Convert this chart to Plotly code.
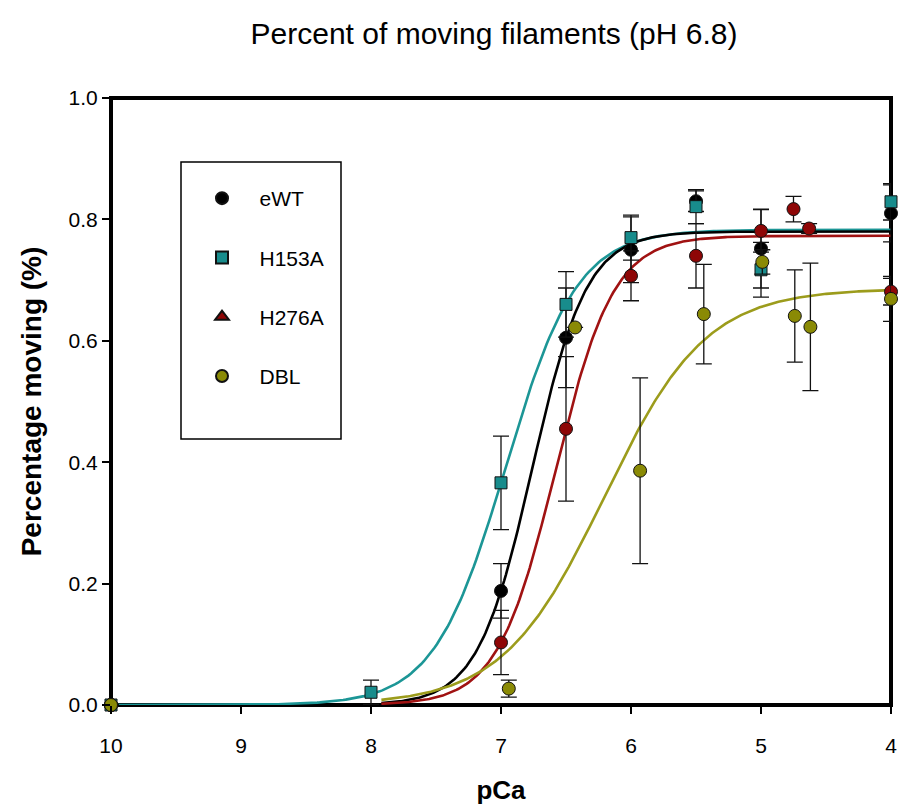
import numpy as np
import plotly.graph_objects as go

# ---------------- data ----------------
ewt_pca = [10, 7, 6.5, 6, 5.5, 5, 4]
ewt_val = [0, 0.188, 0.605, 0.750, 0.830, 0.752, 0.810]
ewt_err = [None, 0.045, 0.082, 0.054, 0.017, 0.065, 0.047]

h153_pca = [10, 8, 7, 6.5, 6, 5.5, 5, 4]
h153_val = [0, 0.021, 0.366, 0.660, 0.770, 0.821, 0.717, 0.829]
h153_err = [None, 0.020, 0.077, 0.054, 0.037, 0.028, 0.045, 0.030]

h276_pca = [10, 7, 6.5, 6, 5.5, 5, 4.75, 4.63, 4]
h276_val = [0, 0.103, 0.455, 0.707, 0.740, 0.781, 0.817, 0.785, 0.681]
h276_err = [None, 0.053, 0.119, 0.041, 0.053, 0.035, 0.021, 0.008, 0.022]

dbl_pca = [10, 6.94, 6.43, 5.93, 5.44, 4.99, 4.74, 4.62, 4]
dbl_val = [0, 0.027, 0.622, 0.386, 0.644, 0.730, 0.641, 0.623, 0.669]
dbl_err = [None, 0.014, None, 0.153, 0.082, 0.020, 0.076, 0.105, 0.037]

# Hill-fit parameters: (ymax, nH, pCa50, start pCa)
fit_ewt = (0.780, 2.07, 6.759, 7.92)
fit_h153 = (0.783, 1.58, 6.965, 10.0)
fit_h276 = (0.773, 1.94, 6.581, 7.92)
fit_dbl = (0.686, 1.11, 6.205, 7.92)

x_ticks = [10, 9, 8, 7, 6, 5, 4]
y_ticks = [0.0, 0.2, 0.4, 0.6, 0.8, 1.0]

names = ["eWT", "H153A", "H276A", "DBL"]

C_BLACK = "#000000"
C_TEAL_M = "#188c8c"
C_TEAL_L = "#1c9696"
C_RED_M = "#8e0606"
C_RED_L = "#a01212"
C_OLV_M = "#8a8a05"
C_OLV_L = "#9c9c1c"

FONT = "Arial, Liberation Sans, sans-serif"


def hill(params):
    ymax, n, p50, start = params
    x = np.linspace(start, 4.0, 300)
    y = ymax / (1.0 + 10 ** (n * (x - p50)))
    return x, y


fig = go.Figure()

# fitted curves
for params, col in [(fit_h153, C_TEAL_L), (fit_ewt, C_BLACK), (fit_h276, C_RED_L), (fit_dbl, C_OLV_L)]:
    fx, fy = hill(params)
    fig.add_trace(go.Scatter(x=fx, y=fy, mode="lines", line=dict(color=col, width=2.6),
                             showlegend=False, hoverinfo="skip", cliponaxis=False))

# data points with error bars
series = [
    (ewt_pca, ewt_val, ewt_err, "circle", C_BLACK, 13),
    (h153_pca, h153_val, h153_err, "square", C_TEAL_M, 12),
    (h276_pca, h276_val, h276_err, "circle", C_RED_M, 13),
    (dbl_pca, dbl_val, dbl_err, "circle", C_OLV_M, 13),
]
for px, py, pe, sym, col, sz in series:
    fig.add_trace(go.Scatter(
        x=px, y=py, mode="markers",
        marker=dict(symbol=sym, color=col, size=sz, line=dict(color="#111111", width=1)),
        error_y=dict(type="data", array=pe, visible=True, color="#111111", thickness=1.3, width=8),
        showlegend=False, cliponaxis=False))

# legend entries
leg_syms = ["circle", "square", "triangle-up", "circle"]
leg_cols = [C_BLACK, C_TEAL_M, C_RED_M, C_OLV_M]
leg_sizes = [13, 12, 14, 13]
for i, nm in enumerate(names):
    fig.add_trace(go.Scatter(
        x=[None], y=[None], mode="markers", name="\u00a0\u00a0\u00a0" + nm,
        legendgroup=nm,
        marker=dict(symbol=leg_syms[i], color=leg_cols[i], size=leg_sizes[i],
                    line=dict(color="#111111", width=1))))

fig.update_layout(
    width=899, height=809,
    margin=dict(l=111, r=8, t=98, b=104, autoexpand=False),
    paper_bgcolor="white", plot_bgcolor="white",
    font=dict(family=FONT, color="black", size=20),
    title=dict(text="Percent of moving filaments (pH 6.8)", x=494 / 899, xanchor="center",
               y=1 - 33 / 809, yanchor="middle",
               font=dict(family=FONT, size=30, color="black")),
    showlegend=True,
    legend=dict(x=(202 - 111) / 780, xanchor="left", y=(705 - 178) / 607, yanchor="top",
                bgcolor="rgba(0,0,0,0)", borderwidth=0, tracegroupgap=29,
                itemsizing="constant", font=dict(family=FONT, size=21, color="black")),
    xaxis=dict(range=[10, 4], tickvals=x_ticks, ticktext=[str(v) for v in x_ticks],
               showgrid=False, zeroline=False, showline=False,
               ticks="outside", ticklen=8, tickwidth=1.5, tickcolor="black",
               tickfont=dict(family=FONT, size=21), ticklabelstandoff=14,
               title=dict(text="<b>pCa</b>", font=dict(family=FONT, size=26), standoff=24),
               automargin=False),
    yaxis=dict(range=[0, 1], tickvals=y_ticks, ticktext=["%.1f" % v for v in y_ticks],
               showgrid=False, zeroline=False, showline=False,
               ticks="outside", ticklen=8, tickwidth=1.5, tickcolor="black",
               tickfont=dict(family=FONT, size=21),
               title=dict(text="<b>Percentage moving (%)</b>", font=dict(family=FONT, size=28), standoff=18),
               automargin=False),
    shapes=[
        dict(type="rect", xref="paper", yref="paper", x0=0, x1=1, y0=0, y1=1,
             line=dict(color="black", width=4), layer="below"),
        dict(type="rect", xref="paper", yref="paper",
             x0=(181 - 111) / 780, x1=(341 - 111) / 780,
             y0=(705 - 439) / 607, y1=(705 - 162) / 607,
             line=dict(color="black", width=1.5), layer="below"),
    ],
)

fig.write_html("out.html")
